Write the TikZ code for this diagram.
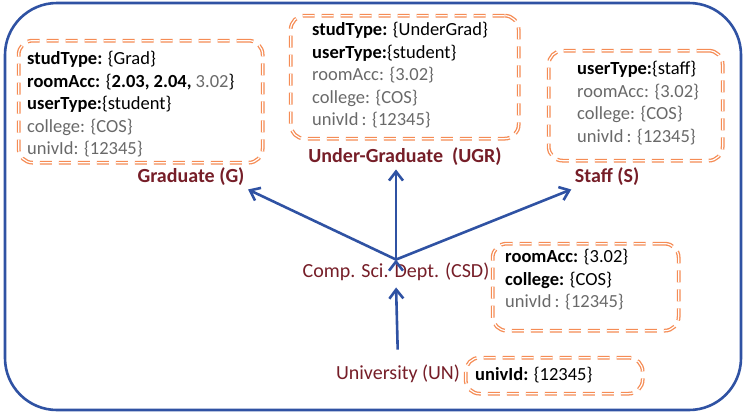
\documentclass[tikz,border=0pt]{standalone}
\usepackage{fontspec}
\setmainfont{Carlito}
\usetikzlibrary{arrows.meta,positioning}
\definecolor{frameblue}{RGB}{47,82,163}
\definecolor{boxorange}{RGB}{245,140,85}
\definecolor{labelred}{RGB}{118,30,40}
\definecolor{inhgray}{RGB}{105,105,105}
\newcommand{\inh}[1]{\textcolor{inhgray}{#1}}

\begin{document}
\begin{tikzpicture}[%
    x=1pt, y=-1pt,
    >={Straight Barb[length=9pt,width=14pt]},
    attrbox/.style={draw=boxorange, double=white, double distance=1.2pt,
      line width=1.3pt, dash pattern=on 12pt off 7pt, rounded corners=14pt,
      anchor=north west, inner sep=0pt},
    attrtext/.style={align=left, inner sep=0pt,
      font=\fontsize{18.5}{22.5}\selectfont},
    classname/.style={text=labelred, font=\fontsize{20}{22}\selectfont\bfseries},
    inherit/.style={->, draw=frameblue, line width=2.6pt}]
    \useasboundingbox (0,0) rectangle (743,413);
    \draw[frameblue, line width=2.6pt, rounded corners=52pt] (5,3) rectangle (741,410);

    \node[attrbox, minimum width=244pt, minimum height=122pt] (grad_box) at (18,40) {};
    \node[attrbox, minimum width=228pt, minimum height=123pt] (ugr_box) at (290,15) {};
    \node[attrbox, minimum width=174pt, minimum height=110pt] (staff_box) at (548,50) {};
    \node[attrbox, minimum width=186pt, minimum height=87pt] (csd_box) at (492,243) {};
    \node[attrbox, minimum width=177pt, minimum height=36pt] (un_box) at (465,357) {};

    \node[attrtext, below right=11pt and 9pt of grad_box.north west] (grad_txt)
      {\textbf{studType:} \{Grad\}\\
       \textbf{roomAcc:} \{\textbf{2.03, 2.04,} \inh{3.02}\}\\
       \textbf{userType:}\{student\}\\
       \inh{college: \{COS\}}\\
       \inh{univId: \{12345\}}};
    \node[attrtext, below right=7pt and 22pt of ugr_box.north west] (ugr_txt)
      {\textbf{studType:} \{UnderGrad\}\\
       \textbf{userType:}\{student\}\\
       \inh{roomAcc: \{3.02\}}\\
       \inh{college: \{COS\}}\\
       \inh{univId\,: \{12345\}}};
    \node[attrtext, below right=11pt and 29pt of staff_box.north west] (staff_txt)
      {\textbf{userType:}\{staff\}\\
       \inh{roomAcc: \{3.02\}}\\
       \inh{college: \{COS\}}\\
       \inh{univId\,: \{12345\}}};
    \node[attrtext, below right=6pt and 13pt of csd_box.north west] (csd_txt)
      {\textbf{roomAcc:} \{3.02\}\\
       \textbf{college:} \{COS\}\\
       \inh{univId\,: \{12345\}}};
    \node[attrtext, below right=10pt and 10pt of un_box.north west] (un_txt)
      {\textbf{univId:} \{12345\}};

    \node[classname] (grad_lbl) at (191,177) {Graduate (G)};
    \node[classname] (ugr_lbl) at (405,157) {Under-Graduate\ \ (UGR)};
    \node[classname] (staff_lbl) at (607,177) {Staff (S)};
    \node[classname, font=\fontsize{20}{22}\selectfont] (csd_lbl) at (396,272) {Comp. Sci. Dept. (CSD)};
    \node[classname, font=\fontsize{20}{22}\selectfont] (un_lbl) at (398,374) {University (UN)};
    \coordinate (ugr_tip) at (csd_lbl.north |- ugr_lbl.south);

    \path[inherit]
      (csd_lbl.north) edge (grad_lbl.south east)
      (csd_lbl.north) edge (ugr_tip)
      (csd_lbl.north) edge (staff_lbl.south west);
    \draw[inherit, shorten <=12pt, shorten >=3pt] (un_lbl.north) -- (csd_lbl.south);
\end{tikzpicture}
\end{document}
